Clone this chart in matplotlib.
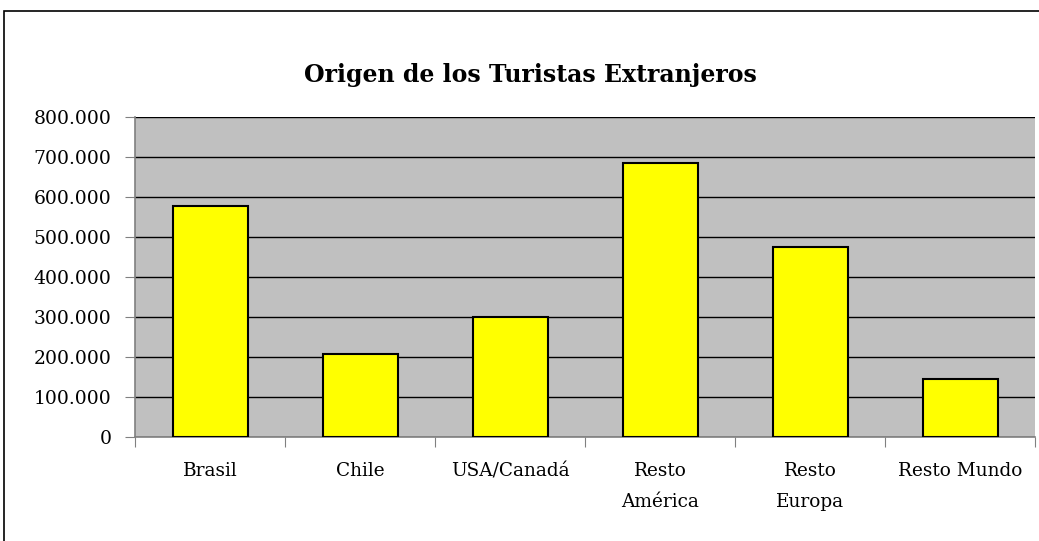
import matplotlib
matplotlib.use("Agg")
import matplotlib.pyplot as plt
from matplotlib.patches import Rectangle

# data
categories = ["Brasil", "Chile", "USA/Canadá", "Resto\nAmérica", "Resto\nEuropa", "Resto Mundo"]
turistas = [578000, 207000, 300000, 686000, 474000, 145000]
y_ticks = [0, 100000, 200000, 300000, 400000, 500000, 600000, 700000, 800000]
y_labels = ["0", "100.000", "200.000", "300.000", "400.000", "500.000",
            "600.000", "700.000", "800.000"]

plt.rcParams["font.family"] = ["DejaVu Serif"]

W, H = 1039, 541
fig = plt.figure(figsize=(W / 100, H / 100), dpi=100)
fig.patch.set_facecolor("white")

# outer chart border (cut off at right/bottom as in the reference)
fig.patches.append(Rectangle((3.5 / W, -0.1), 1.2, 1 - 10.5 / H + 0.1,
                             transform=fig.transFigure, fill=False,
                             edgecolor="black", lw=1.2))

ax = fig.add_axes([135 / W, 104 / H, 900 / W, 320 / H])
ax.set_facecolor("#C0C0C0")

x = list(range(len(categories)))
ax.bar(x, turistas, width=0.5, color="#FFFF00", edgecolor="black",
       linewidth=1.5, zorder=3)

ax.set_xlim(-0.5, len(categories) - 0.5)
ax.set_ylim(0, 800000)
ax.set_yticks(y_ticks)
ax.set_yticklabels(y_labels, fontsize=13.5)
ax.yaxis.grid(True, color="black", lw=1, zorder=1)
ax.set_axisbelow(True)

ax.set_xticks([i - 0.5 for i in range(len(categories) + 1)])
ax.set_xticklabels([])
ax.set_xticks(x, minor=True)
ax.set_xticklabels(categories, minor=True, fontsize=13.3, linespacing=1.95,
                   va="top")
ax.tick_params(axis="x", which="minor", length=0, pad=18)
ax.tick_params(axis="x", which="major", length=7, color="#808080",
               direction="out")
ax.tick_params(axis="y", length=7, color="#808080", direction="out", pad=10)

for side in ("top", "right"):
    ax.spines[side].set_visible(False)
for side in ("left", "bottom"):
    ax.spines[side].set_color("#808080")
    ax.spines[side].set_linewidth(1.2)

fig.text(530 / W, 1 - 75 / H, "Origen de los Turistas Extranjeros",
         ha="center", va="center", fontsize=17, fontweight="bold")

fig.savefig("out.png", dpi=100)
